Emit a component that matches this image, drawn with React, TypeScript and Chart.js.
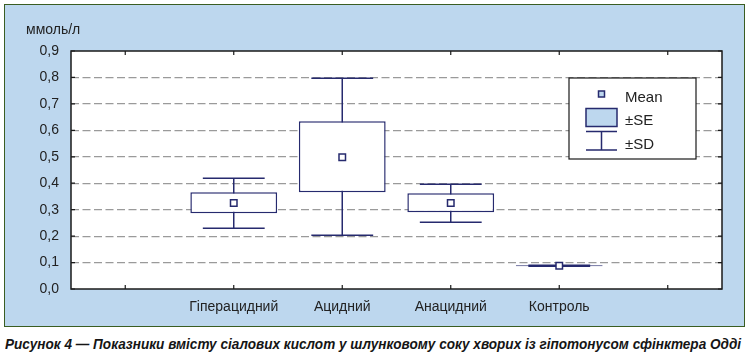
import React, { useEffect, useRef } from "react";
import { Chart, registerables } from "chart.js";

Chart.register(...registerables);

const categories = ["", "Гіперацидний", "Ацидний", "Анацидний", "Контроль", ""];
const means = [null, 0.325, 0.498, 0.325, 0.088, null];
const seLow = [null, 0.286, 0.366, 0.29, 0.086, null];
const seHigh = [null, 0.366, 0.634, 0.362, 0.09, null];
const sdLow = [null, 0.23, 0.203, 0.252, 0.086, null];
const sdHigh = [null, 0.419, 0.797, 0.396, 0.09, null];
const yTicks = [0, 0.1, 0.2, 0.3, 0.4, 0.5, 0.6, 0.7, 0.8, 0.9];
const unitLabel = "ммоль/л";
const legendLabels = ["Mean", "±SE", "±SD"];
const caption =
  "Рисунок 4 — Показники вмісту сіалових кислот у шлунковому соку хворих із гіпотонусом сфінктера Одді";

const NAVY = "#262a6e";
const FONT = "'Liberation Sans', Arial, sans-serif";

const decorPlugin = {
  id: "decor",
  beforeDraw(chart: any) {
    const { ctx, chartArea: a } = chart;
    ctx.save();
    ctx.fillStyle = "#ffffff";
    ctx.fillRect(a.left, a.top, a.right - a.left, a.bottom - a.top);
    ctx.restore();
  },
  beforeDatasetsDraw(chart: any) {
    const { ctx } = chart;
    const xs = chart.scales.x;
    const ys = chart.scales.y;
    const slot = xs.getPixelForValue(1) - xs.getPixelForValue(0);
    const capHalf = slot * 0.285;
    ctx.save();
    ctx.strokeStyle = NAVY;
    ctx.lineWidth = 1.5;
    for (let i = 0; i < categories.length; i++) {
      const lo = sdLow[i];
      const hi = sdHigh[i];
      if (lo == null || hi == null) continue;
      const x = xs.getPixelForValue(i);
      const yl = ys.getPixelForValue(lo);
      const yh = ys.getPixelForValue(hi);
      ctx.beginPath();
      ctx.moveTo(x, yl);
      ctx.lineTo(x, yh);
      ctx.moveTo(x - capHalf, yl);
      ctx.lineTo(x + capHalf, yl);
      ctx.moveTo(x - capHalf, yh);
      ctx.lineTo(x + capHalf, yh);
      ctx.stroke();
    }
    ctx.restore();
  },
  afterDraw(chart: any) {
    const { ctx, chartArea: a } = chart;
    const xs = chart.scales.x;
    const ys = chart.scales.y;
    ctx.save();
    ctx.strokeStyle = "#1a1a1a";
    ctx.lineWidth = 1.5;
    ctx.strokeRect(a.left, a.top, a.right - a.left, a.bottom - a.top);
    ctx.lineWidth = 1.2;
    ctx.beginPath();
    for (const v of yTicks) {
      const y = ys.getPixelForValue(v);
      ctx.moveTo(a.left, y);
      ctx.lineTo(a.left + 4, y);
      ctx.moveTo(a.right, y);
      ctx.lineTo(a.right - 4, y);
    }
    for (let i = 0; i < categories.length; i++) {
      const x = xs.getPixelForValue(i);
      ctx.moveTo(x, a.bottom);
      ctx.lineTo(x, a.bottom - 4);
      ctx.moveTo(x, a.top);
      ctx.lineTo(x, a.top + 4);
    }
    ctx.stroke();
    ctx.fillStyle = "#222";
    ctx.font = `14px ${FONT}`;
    ctx.textAlign = "left";
    ctx.textBaseline = "alphabetic";
    ctx.fillText(unitLabel, 26, 34);
    const lx = 569, ly = 78, lw = 127, lh = 81;
    ctx.fillStyle = "#fff";
    ctx.fillRect(lx, ly, lw, lh);
    ctx.strokeStyle = "#1a1a1a";
    ctx.lineWidth = 1.2;
    ctx.strokeRect(lx, ly, lw, lh);
    ctx.fillStyle = "#bdd7ee";
    ctx.strokeStyle = NAVY;
    ctx.lineWidth = 1.5;
    ctx.fillRect(598.5, 91, 6, 6);
    ctx.strokeRect(598.5, 91, 6, 6);
    ctx.fillRect(586, 108.5, 31, 18);
    ctx.strokeRect(586, 108.5, 31, 18);
    ctx.beginPath();
    ctx.moveTo(586, 131.5);
    ctx.lineTo(617, 131.5);
    ctx.moveTo(601.5, 131.5);
    ctx.lineTo(601.5, 150);
    ctx.moveTo(586, 150);
    ctx.lineTo(617, 150);
    ctx.stroke();
    ctx.fillStyle = "#222";
    ctx.font = `15px ${FONT}`;
    ctx.fillText(legendLabels[0], 625, 102);
    ctx.fillText(legendLabels[1], 625, 125);
    ctx.fillText(legendLabels[2], 625, 148.5);
    ctx.restore();
  },
};

export default function App() {
  const ref = useRef<HTMLCanvasElement>(null);
  const capRef = useRef<HTMLDivElement>(null);
  useEffect(() => {
    const el = capRef.current;
    if (el) {
      const w = el.scrollWidth;
      if (w > 0) el.style.transform = `scaleX(${736 / w})`;
    }
    const chart = new Chart(ref.current as HTMLCanvasElement, {
      type: "bar",
      data: {
        labels: categories,
        datasets: [
          {
            type: "line",
            label: "Mean",
            data: means as any,
            showLine: false,
            pointStyle: "rect",
            pointRadius: 4.6,
            pointBackgroundColor: "#ffffff",
            pointBorderColor: NAVY,
            pointBorderWidth: 1.5,
            order: 0,
          } as any,
          {
            type: "bar",
            label: "±SE",
            data: seLow.map((v, i) => (v == null ? null : [v, seHigh[i] as number])) as any,
            backgroundColor: "#ffffff",
            borderColor: NAVY,
            borderWidth: 1.5,
            borderSkipped: false,
            barPercentage: 0.8,
            categoryPercentage: 1,
            order: 1,
          } as any,
        ],
      },
      options: {
        animation: false,
        responsive: false,
        maintainAspectRatio: false,
        layout: { padding: { left: 0, right: 26, top: 51, bottom: 11 } },
        plugins: { legend: { display: false }, tooltip: { enabled: false } },
        scales: {
          x: {
            type: "category",
            offset: true,
            grid: { display: false, drawTicks: false },
            border: { display: false },
            ticks: {
              color: "#222",
              font: { size: 14, family: FONT },
              padding: 10,
              maxRotation: 0,
              autoSkip: false,
            },
            afterFit: (s: any) => {
              s.height = 30;
            },
          },
          y: {
            min: 0,
            max: 0.9,
            grid: {
              drawTicks: false,
              color: (c: any) =>
                c.tick && (c.tick.value <= 0.001 || c.tick.value >= 0.899) ? "rgba(0,0,0,0)" : "#9a9a9a",
              lineWidth: 1.2,
            },
            border: { display: false, dash: [8, 3.5] },
            ticks: {
              stepSize: 0.1,
              color: "#222",
              font: { size: 14, family: FONT },
              padding: 12,
              callback: (v: any) => Number(v).toFixed(1).replace(".", ","),
            },
            afterFit: (s: any) => {
              s.width = 71;
            },
          },
        },
      },
      plugins: [decorPlugin],
    });
    return () => chart.destroy();
  }, []);

  return (
    <div style={{ position: "absolute", left: 0, top: 0, width: 748, height: 361, background: "#fff" }}>
      <div
        style={{
          position: "absolute",
          left: 4,
          top: 4,
          width: 741,
          height: 323,
          boxSizing: "border-box",
          background: "#bdd7ee",
          border: "1.5px solid #3a5d22",
        }}
      />
      <canvas ref={ref} width={748} height={330} style={{ position: "absolute", left: 0, top: 0 }} />
      <div
        ref={capRef}
        style={{
          position: "absolute",
          left: 5,
          top: 335,
          whiteSpace: "nowrap",
          transformOrigin: "0 0",
          fontFamily: FONT,
          fontWeight: "bold",
          fontStyle: "italic",
          fontSize: 15,
          color: "#151515",
          lineHeight: "18px",
        }}
      >
        {caption}
      </div>
    </div>
  );
}
